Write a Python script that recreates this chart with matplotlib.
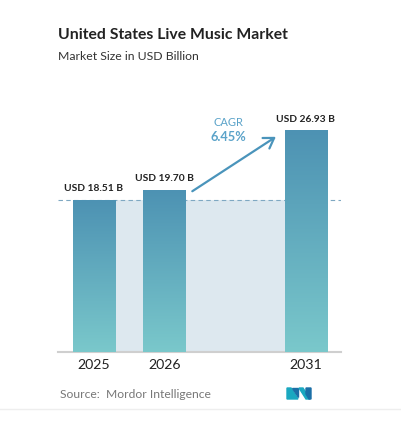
import numpy as np
import matplotlib.pyplot as plt
from matplotlib.patches import Polygon
from matplotlib.colors import LinearSegmentedColormap

# data
years = ["2025", "2026", "2031"]
xpos = [0, 1, 3]
values = [18.51, 19.70, 26.93]
labels = ["USD 18.51 B", "USD 19.70 B", "USD 26.93 B"]
cagr = "6.45%"

W, H = 402, 424
fig = plt.figure(figsize=(W/100, H/100), dpi=100)
plt.rcParams['font.family'] = ['Lato', 'DejaVu Sans']

# axes placed in pixel terms
x0, x1, ybase, ytop = 58, 341, 352, 100
ax = fig.add_axes([x0/W, 1-ybase/H, (x1-x0)/W, (ybase-ytop)/H])
for s in ['top', 'right', 'left']:
    ax.spines[s].set_visible(False)
ax.spines['bottom'].set_color('#cfcfcf')
ax.spines['bottom'].set_linewidth(1.5)
ax.set_yticks([])
ax.set_xticks(xpos)
ax.set_xticklabels(years, fontsize=10.2, color='#222222')
ax.tick_params(axis='x', length=0, pad=5)

bw = 0.6
# light band behind bars
ax.fill_between([xpos[0]-bw/2, xpos[-1]+bw/2], 0, values[0], color='#dde8ef', zorder=1, lw=0)
ax.axhline(values[0], color='#7fa8c2', lw=0.8, ls=(0, (4, 3)), zorder=2)

cmap = LinearSegmentedColormap.from_list('g', ['#7ac8cb', '#4d92b3'])
grad = np.linspace(0, 1, 256).reshape(-1, 1)
for x, v, lab in zip(xpos, values, labels):
    ax.imshow(grad, cmap=cmap, origin='lower', aspect='auto',
              extent=[x-bw/2, x+bw/2, 0, v], zorder=3)
    ax.annotate(lab, (x, v), xytext=(0, 5), textcoords='offset points',
                ha='center', va='bottom', fontsize=7.4, fontweight='bold', color='#222222')
ax.set_xlim(-0.51, 3.50)
ax.set_ylim(0, 30.7)

# CAGR arrow
ax.annotate('', xy=(2.61, 26.4), xytext=(1.36, 19.4),
            arrowprops=dict(arrowstyle='->,head_length=0.7,head_width=0.45', color='#4a94bb', lw=1.6))
ax.text(1.91, 28.0, "CAGR", ha='center', va='center', fontsize=8, color='#5ba3c9')
ax.text(1.91, 26.2, cagr, ha='center', va='center', fontsize=9.2, fontweight='bold', color='#5ba3c9')

# titles
fig.text(58/W, 1-35/H, "United States Live Music Market", fontsize=11.3, fontweight='bold',
         color='#222222', va='center', ha='left')
fig.text(58/W, 1-56/H, "Market Size in USD Billion", fontsize=8.8, color='#333333',
         va='center', ha='left')
fig.text(60/W, 1-394/H, "Source:  Mordor Intelligence", fontsize=8.7, color='#777777',
         va='center', ha='left')

# logo
def px(pts):
    return [(a/W, 1-b/H) for a, b in pts]
teal, dark = '#1aa8c0', '#1b6fa6'
for pts, c in [([(287, 388), (291, 388), (298, 399), (287, 399)], teal),
               ([(292, 388), (298, 388), (298, 397)], dark),
               ([(299, 388), (303, 388), (310, 399), (306, 399)], teal),
               ([(306, 388), (311, 388), (311, 399), (309, 399), (306, 394)], dark)]:
    fig.patches.append(Polygon(px(pts), closed=True, color=c, transform=fig.transFigure))

fig.add_artist(plt.Line2D([0, 1], [1-409/H, 1-409/H], transform=fig.transFigure,
                          color='#eeeeee', lw=1))

fig.savefig("out.png", dpi=100)
